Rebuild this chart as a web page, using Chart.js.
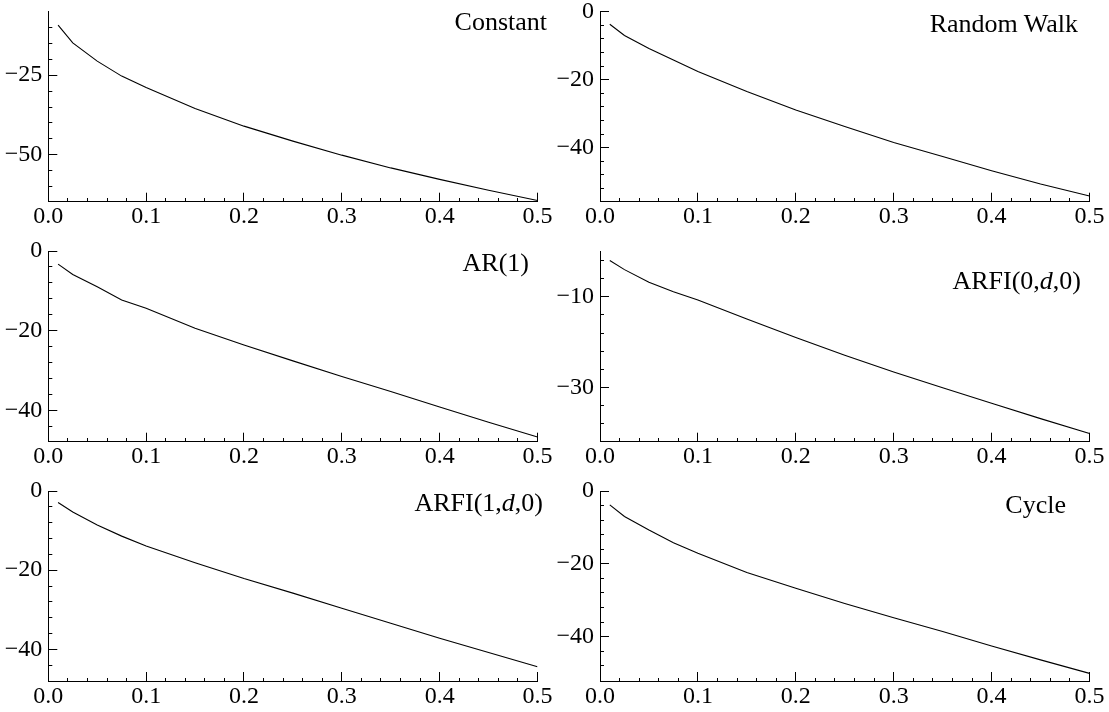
<!DOCTYPE html>
<html>
<head>
<meta charset="utf-8">
<script src="https://cdn.jsdelivr.net/npm/chart.js@4/dist/chart.umd.min.js"></script>
<style>
  body { margin: 0; background: #fff; }
  #wrap { position: relative; width: 1109px; height: 712px; overflow: hidden; }
  canvas { position: absolute; }
  .lbl { position: absolute; font-family: 'Liberation Serif', serif; font-size: 26px; line-height: 26px; color: #000; white-space: nowrap; text-align: right; }
</style>
</head>
<body>
<div id="wrap"></div>
<script>
// frequency grid (x values)
var freq = [0.01, 0.025, 0.05, 0.075, 0.1, 0.15, 0.2, 0.25, 0.3, 0.35, 0.4, 0.45, 0.5];

// series
var constant   = [-9.3, -14.9, -20.6, -25.3, -28.9, -35.5, -41.0, -45.7, -50.1, -54.1, -57.7, -61.1, -64.3];
var randomWalk = [-3.7, -7.0, -10.8, -14.2, -17.6, -23.5, -28.9, -33.8, -38.5, -42.6, -46.8, -50.7, -54.2];
var ar1        = [-3.3, -5.9, -9.0, -12.3, -14.4, -19.4, -23.6, -27.6, -31.5, -35.3, -39.2, -43.0, -46.7];
var arfi0      = [-2.0, -4.0, -6.8, -8.9, -10.7, -14.9, -19.0, -22.9, -26.6, -30.1, -33.5, -36.9, -40.2];
var arfi1      = [-2.9, -5.3, -8.6, -11.4, -13.9, -18.1, -22.1, -25.8, -29.6, -33.4, -37.2, -40.8, -44.4];
var cycle      = [-3.8, -7.0, -10.7, -14.2, -17.1, -22.4, -26.7, -30.9, -34.8, -38.6, -42.6, -46.4, -50.1];

// x ticks: minor every 0.02, labelled every 0.1
var xTickVals = [];
for (var i = 0; i <= 25; i++) xTickVals.push(i * 0.02);

// y ticks per panel (all tick marks) and the labelled ones
var constTicks = [-60, -55, -50, -45, -40, -35, -30, -25, -20, -15, -10];
var constLabels = [-25, -50];
var rwTicks = [-52, -48, -44, -40, -36, -32, -28, -24, -20, -16, -12, -8, -4, 0];
var ar1Ticks = [-44, -40, -36, -32, -28, -24, -20, -16, -12, -8, -4, 0];
var arfi0Ticks = [-38, -34, -30, -26, -22, -18, -14, -10, -6, -2];
var arfi0Labels = [-10, -30];
var arfi1Ticks = [-44, -40, -36, -32, -28, -24, -20, -16, -12, -8, -4, 0];
var cycleTicks = [-48, -44, -40, -36, -32, -28, -24, -20, -16, -12, -8, -4, 0];
var stdLabels = [0, -20, -40];

var panels = [
  { name: 'Constant',    data: constant,   min: -64.7, max: -5.1, ticks: constTicks, labels: constLabels,
    plot: [48.3, 11.7, 537.5, 201.7], canvas: [0, 0, 560, 235] },
  { name: 'Random Walk', data: randomWalk, min: -55.9, max: 0, ticks: rwTicks, labels: stdLabels,
    plot: [600, 11.7, 1089.5, 201.7], canvas: [550, 0, 559, 235] },
  { name: 'AR(1)',       data: ar1,        min: -47.9, max: 0, ticks: ar1Ticks, labels: stdLabels,
    plot: [48.3, 251, 537.5, 441.7], canvas: [0, 235, 560, 235] },
  { name: 'ARFI(0,d,0)', data: arfi0,      min: -42.0, max: 0, ticks: arfi0Ticks, labels: arfi0Labels,
    plot: [600, 251.5, 1089.5, 441.7], canvas: [550, 235, 559, 235] },
  { name: 'ARFI(1,d,0)', data: arfi1,      min: -48.0, max: 0, ticks: arfi1Ticks, labels: stdLabels,
    plot: [48.3, 491, 537.5, 681], canvas: [0, 470, 560, 242] },
  { name: 'Cycle',       data: cycle,      min: -52.2, max: 0, ticks: cycleTicks, labels: stdLabels,
    plot: [600, 491, 1089.5, 681], canvas: [550, 470, 559, 242] }
];

// label text, right edge and top of text box
var titles = [
  { html: 'Constant', right: 547, top: 9 },
  { html: 'Random Walk', right: 1078, top: 11 },
  { html: 'AR(1)', right: 529, top: 250 },
  { html: 'ARFI(0,<i>d</i>,0)', right: 1081, top: 268 },
  { html: 'ARFI(1,<i>d</i>,0)', right: 543, top: 490 },
  { html: 'Cycle', right: 1066, top: 492 }
];

var tickFont = { family: 'Liberation Serif', size: 24 };

function fmt(v) {
  return (v < 0 ? '\u2212' : '') + Math.abs(v);
}

var wrap = document.getElementById('wrap');

panels.forEach(function(p, k) {
  var c = p.canvas, r = p.plot;
  var cv = document.createElement('canvas');
  cv.width = c[2];
  cv.height = c[3];
  cv.style.left = c[0] + 'px';
  cv.style.top = c[1] + 'px';
  wrap.appendChild(cv);

  var yAxisW = r[0] - c[0];
  var xAxisH = c[1] + c[3] - r[3];

  new Chart(cv.getContext('2d'), {
    type: 'line',
    data: {
      datasets: [{
        data: freq.map(function(f, i) { return { x: f, y: p.data[i] }; }),
        borderColor: '#000',
        borderWidth: 1.1,
        pointRadius: 0,
        tension: 0,
        fill: false
      }]
    },
    options: {
      responsive: false,
      animation: false,
      devicePixelRatio: 1,
      layout: { padding: { top: r[1] - c[1], right: c[0] + c[2] - r[2], left: 0, bottom: 0 } },
      plugins: { legend: { display: false }, tooltip: { enabled: false } },
      scales: {
        x: {
          type: 'linear', position: 'bottom', min: 0, max: 0.5,
          afterBuildTicks: function(s) { s.ticks = xTickVals.map(function(v) { return { value: v }; }); },
          afterFit: function(s) { s.height = xAxisH; s.paddingLeft = 0; s.paddingRight = 0; },
          border: { display: true, color: '#000', width: 1 },
          grid: {
            drawOnChartArea: false, drawTicks: true, tickLength: -9, tickColor: '#000', tickWidth: 1,
            tickBorderDash: function(ctx) { return (ctx.index % 5 === 0) ? [] : [4, 40]; }
          },
          ticks: {
            autoSkip: false, maxRotation: 0, padding: 10, color: '#000', font: tickFont,
            callback: function(v, i) { return i % 5 === 0 ? (i / 50).toFixed(1) : ''; }
          }
        },
        y: {
          type: 'linear', position: 'left', min: p.min, max: p.max,
          afterBuildTicks: function(s) { s.ticks = p.ticks.map(function(v) { return { value: v }; }); },
          afterFit: function(s) { s.width = yAxisW; s.paddingTop = 0; s.paddingBottom = 0; },
          border: { display: true, color: '#000', width: 1 },
          grid: {
            drawOnChartArea: false, drawTicks: true, tickLength: -9, tickColor: '#000', tickWidth: 1,
            tickBorderDash: function(ctx) {
              return (ctx.tick && p.labels.indexOf(ctx.tick.value) >= 0) ? [] : [0, 5, 4, 40];
            }
          },
          ticks: {
            autoSkip: false, padding: 15, color: '#000', font: tickFont,
            callback: function(v) { return p.labels.indexOf(v) >= 0 ? fmt(v) : ''; }
          }
        }
      }
    }
  });
});

titles.forEach(function(t) {
  var d = document.createElement('div');
  d.className = 'lbl';
  d.innerHTML = t.html;
  d.style.right = (1109 - t.right) + 'px';
  d.style.top = t.top + 'px';
  wrap.appendChild(d);
});
</script>
</body>
</html>
